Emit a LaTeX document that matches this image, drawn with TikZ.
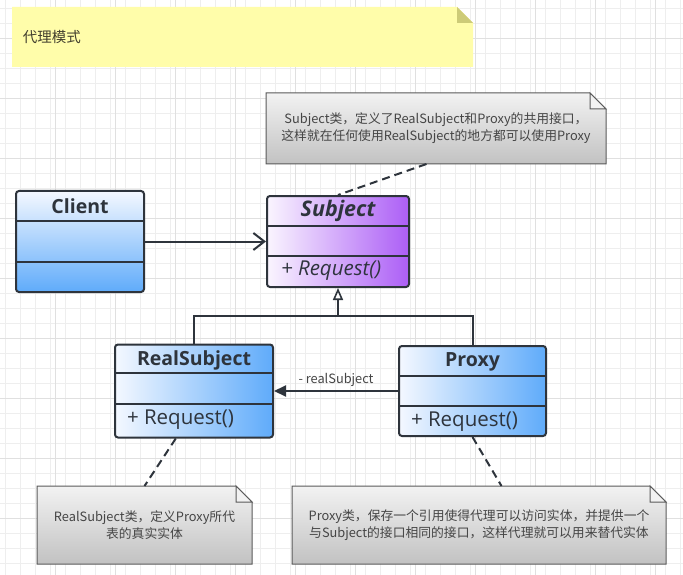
\documentclass[tikz,border=0pt]{standalone}
\usepackage{fontspec}
\setmainfont{Open Sans}
\newfontfamily\cjk{Noto Sans CJK SC}
\usetikzlibrary{arrows.meta,calc,backgrounds}
\definecolor{UMLInk}{HTML}{2E343C}
\definecolor{UMLBlue}{HTML}{5FABFA}
\definecolor{UMLBlueTop}{HTML}{F4F8FF}
\definecolor{UMLPurple}{HTML}{AC5EF6}
\definecolor{NoteYellow}{HTML}{FFFDAA}
\definecolor{NoteFold}{HTML}{CDCB78}
\definecolor{NoteInk}{HTML}{454545}
\definecolor{NoteEdge}{HTML}{5A5A5A}
\definecolor{GridMinor}{HTML}{EEEEEE}
\definecolor{GridMajor}{HTML}{E0E0E0}

% dog-eared outline under a note node: node, fold size, fill style
\newcommand\dogear[3]{%
  \begin{scope}[on background layer]
    \path[#3] (#1.north west) -- ($(#1.north east)+(-#2,0)$) -- ($(#1.north east)+(0,#2)$)
      -- (#1.south east) -- (#1.south west) -- cycle;
  \end{scope}}

\begin{document}
\begin{tikzpicture}[x=1pt,y=-1pt,line width=2pt,draw=UMLInk,
  umlclass/.style={draw=UMLInk,rounded corners=3pt,inner sep=0pt},
  classname/.style={font=\bfseries\fontsize{19.5}{22}\selectfont,text=UMLInk,inner sep=0pt},
  classop/.style={font=\fontsize{20.5}{22}\selectfont,text=UMLInk,inner sep=0pt,anchor=west},
  notetext/.style={font=\cjk\fontsize{12.8}{17}\selectfont,text=NoteInk,align=center,inner sep=0pt},
  graynote/.style={draw=NoteEdge,line width=1pt,top color=NoteTop,bottom color=NoteBottom},
  dashlink/.style={draw=UMLInk,line width=2pt,dash pattern=on 8pt off 5pt},
  assoc/.style={-{Straight Barb[length=11pt,width=17pt]}},
  inherit/.style={-{Triangle[open,length=12pt,width=10pt,fill=white,line width=1.6pt]}},
  navig/.style={-{Triangle[length=12pt,width=11pt]}},
]
\colorlet{NoteTop}{white!95!black}
\colorlet{NoteBottom}{white!76!black}
\useasboundingbox (0,0) rectangle (683,575);

% grid paper
\begin{scope}[on background layer]
  \fill[white] (0,0) rectangle (683,575);
  \foreach \gx in {5.7,20.7,...,683} \draw[GridMinor,line width=0.8pt] (\gx,0) -- (\gx,575);
  \foreach \gy in {8.3,23.3,...,575} \draw[GridMinor,line width=0.8pt] (0,\gy) -- (683,\gy);
  \foreach \gx in {55.7,115.7,...,683} \draw[GridMajor,line width=0.8pt] (\gx,0) -- (\gx,575);
  \foreach \gy in {38.3,98.3,...,575} \draw[GridMajor,line width=0.8pt] (0,\gy) -- (683,\gy);
\end{scope}

% title note
\node[font=\cjk\fontsize{14.5}{16}\selectfont,text=black!70!olive,inner xsep=10pt,
  minimum width=459pt,minimum height=58pt,text width=439pt,align=left] (title) at (242.5,37) {代理模式};
\dogear{title}{16}{fill=NoteYellow}
\fill[NoteFold] ($(title.north east)+(-16,0)$) -- ++(0,16) -- ++(16,0) -- cycle;

% classes
\node[umlclass,minimum width=128pt,minimum height=101pt,top color=UMLBlueTop,bottom color=UMLBlue] (client) at (80,241.5) {};
\draw (client.west |- 0,221) -- (client.east |- 0,221);
\draw (client.west |- 0,262) -- (client.east |- 0,262);
\node[classname] (clientname) at (client.north |- 0,206) {Client};

\node[umlclass,minimum width=142pt,minimum height=91pt,left color=white!94!UMLPurple,right color=UMLPurple] (subject) at (338,241.5) {};
\draw (subject.west |- 0,226) -- (subject.east |- 0,226);
\draw (subject.west |- 0,256) -- (subject.east |- 0,256);
\node[classname,font=\bfseries\itshape\fontsize{21.5}{24}\selectfont] (subjectname) at (subject.north |- 0,211) {Subject};
\node[classop,font=\itshape\fontsize{20.5}{22}\selectfont] (subjectop) at (280,271) {+ Request()};

\node[umlclass,minimum width=158pt,minimum height=93pt,left color=UMLBlueTop,right color=UMLBlue] (realsubject) at (194,391) {};
\draw (realsubject.west |- 0,373) -- (realsubject.east |- 0,373);
\draw (realsubject.west |- 0,404) -- (realsubject.east |- 0,404);
\node[classname] (realname) at (realsubject.north |- 0,360) {RealSubject};
\node[classop] (realop) at (126,420) {+ Request()};

\node[umlclass,minimum width=147pt,minimum height=90pt,left color=UMLBlueTop,right color=UMLBlue] (proxy) at (472.5,391) {};
\draw (proxy.west |- 0,376) -- (proxy.east |- 0,376);
\draw (proxy.west |- 0,406) -- (proxy.east |- 0,406);
\node[classname] (proxyname) at (proxy.north |- 0,362) {Proxy};
\node[classop] (proxyop) at (410,422) {+ Request()};

% comment notes
\node[notetext,minimum width=338pt,minimum height=69pt] (subjnote) at (436,128.5)
  {Subject类，定义了RealSubject和Proxy的共用接口，\\这样就在任何使用RealSubject的地方都可以使用Proxy};
\node[notetext,minimum width=213pt,minimum height=76pt] (realnote) at (144.5,525)
  {RealSubject类，定义Proxy所代\\表的真实实体};
\node[notetext,minimum width=372pt,minimum height=76pt] (proxynote) at (479,525)
  {Proxy类，保存一个引用使得代理可以访问实体，并提供一个\\与Subject的接口相同的接口，这样代理就可以用来替代实体};
\foreach \n in {subjnote,realnote,proxynote} {
  \dogear{\n}{16}{graynote}
  \begin{scope}[on background layer]
    \filldraw[fill=NoteTop,draw=NoteEdge,line width=1pt] ($(\n.north east)+(-16,0)$) -- ++(0,16) -- ++(16,0) -- cycle;
  \end{scope}
}

% connectors
\coordinate (bus) at ($(subject.south)+(0,28)$);
\draw[assoc] (client.east) -- (subject.west);
\draw (realsubject.north) |- (bus);
\draw[inherit] (proxy.north) |- (bus) -- (subject.south);
\draw[navig] (proxy.west) -- node[above=3pt,font=\cjk\fontsize{12.8}{15}\selectfont,text=NoteInk,inner sep=0pt] {- realSubject} (realsubject.east);
\draw[dashlink] (subjnote.-105) -- (subject.north);
\draw[dashlink] (realsubject.-111) -- (realnote.north);
\draw[dashlink] (proxy.south) -- (proxynote.60);
\end{tikzpicture}
\end{document}
